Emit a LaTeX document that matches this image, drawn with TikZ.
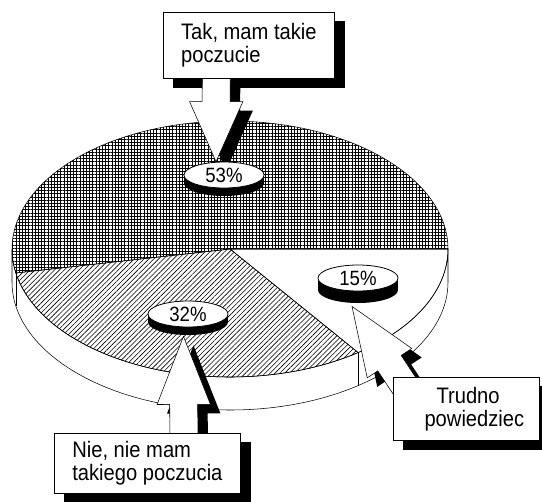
\documentclass[tikz,border=0pt]{standalone}
\usepackage{fontspec}
\setmainfont{Liberation Sans}[FakeStretch=0.9]
\usepackage{tikz}
\usetikzlibrary{calc,shapes.geometric,shadows,patterns.meta}

\pgfdeclarelayer{pie}
\pgfdeclarelayer{calls}
\pgfsetlayers{pie,calls,main}

\newcommand{\boxfont}{\fontsize{16.8pt}{17.25pt}\selectfont}
\newcommand{\labfont}{\fontsize{15.5pt}{16pt}\selectfont}
\newcommand{\headw}{20pt}
\newcommand{\shaftw}{10.5pt}
\newcommand{\callpath}{(ct) -- ($(ch)!\headw!90:(ct)$) -- ($(ch)!\shaftw!90:(ct)$)
  -- ($(cb)!\shaftw!90:(ct)$) -- ($(cb)!\shaftw!-90:(ct)$)
  -- ($(ch)!\shaftw!-90:(ct)$) -- ($(ch)!\headw!-90:(ct)$) -- cycle}
% strzalka: #1 podstawa w ramce, #2 grot, #3 dlugosc grota
\newcommand{\callout}[3]{%
  \coordinate (cb) at #1;
  \coordinate (ct) at #2;
  \coordinate (ch) at ($(ct)!#3!(cb)$);
  \fill[callshade] \callpath;
  \draw[callface] \callpath;
}

\begin{document}
\begin{tikzpicture}[
        x=0.75pt, y=-0.75pt, line width=0.6pt,
        callbox/.style={draw, fill=white, anchor=north west, align=left, inner sep=0pt, font=\boxfont},
        boxshade/.style={fill=black},
        coin/.style={ellipse, draw, fill=white, inner sep=0pt, minimum width=60pt, minimum height=19.5pt, font=\labfont,
            general shadow={fill=black, shadow yshift=-6pt},
            general shadow={fill=black, shadow yshift=-4.5pt},
            general shadow={fill=black, shadow yshift=-3pt},
            general shadow={fill=black, shadow yshift=-1.5pt}},
        deepcoin/.style={general shadow={fill=black, shadow yshift=-9pt},
            general shadow={fill=black, shadow yshift=-7.5pt}},
        callshade/.style={fill=black, transform canvas={xshift=7.5pt, yshift=-6.75pt}},
        callface/.style={draw, fill=white},
        side/.style={draw, fill=white},
        slice/.style={draw, line join=round}
    ]
    \useasboundingbox (0,0) rectangle (542,501);

    % Ramki
    \node[callbox, minimum width=128.25pt, minimum height=49.5pt] (tak) at (163,12) {Tak, mam takie\\poczucie};
    \node[callbox, minimum width=139.5pt, minimum height=45pt] (nie) at (54,433) {Nie, nie mam\\takiego poczucia};
    \node[callbox, minimum width=109.5pt, minimum height=47.25pt] (trudno) at (393,377) {\hspace*{21pt}Trudno\\\hspace*{12pt}powiedziec};

    % Etykiety
    \node[coin] (p53) at (224,175) {53\%};
    \node[coin] (p32) at (188,314) {32\%};
    \node[coin, deepcoin] (p15) at (358,278) {15\%};

    % Tort
    \begin{pgfonlayer}{pie}
    \coordinate (pc) at (230,249);
    \path[side] (448,249) arc[start angle=0, end angle=180, x radius=218, y radius=128]
        -- ++(0,33) arc[start angle=180, end angle=0, x radius=218, y radius=128] -- cycle;
    \draw (pc) ++(54:218 and 128) -- ++(0,33);
    \draw (pc) ++(169.2:218 and 128) -- ++(0,33);
    \path[slice, pattern={Hatch[distance=2.4pt, line width=0.55pt]}] (pc) -- +(0:218 and 128)
        arc[start angle=0, end angle=-190.8, x radius=218, y radius=128] -- cycle;
    \path[slice, pattern={Lines[angle=45, distance=2.6pt, line width=0.45pt]}] (pc) -- +(169.2:218 and 128)
        arc[start angle=169.2, end angle=54, x radius=218, y radius=128] -- cycle;
    \path[slice] (pc) -- +(54:218 and 128)
        arc[start angle=54, end angle=0, x radius=218, y radius=128] -- cycle;
    \foreach \b in {tak,nie,trudno}
        \fill[boxshade] ([shift={(10,9)}]\b.south west) rectangle ([shift={(10,9)}]\b.north east);
    \end{pgfonlayer}

    % Strzalki
    \begin{pgfonlayer}{calls}
    \callout{([xshift=-24.4pt]tak.center)}{([xshift=-6pt]p53.north)}{45pt}
    \callout{([xshift=27.4pt]nie.center)}{([xshift=-3.4pt,yshift=-6.75pt]p32.south)}{51pt}
    \callout{([xshift=-35pt]trudno.center)}{([xshift=-4.5pt,yshift=-11.25pt]p15.south)}{51pt}
    \end{pgfonlayer}
\end{tikzpicture}
\end{document}
